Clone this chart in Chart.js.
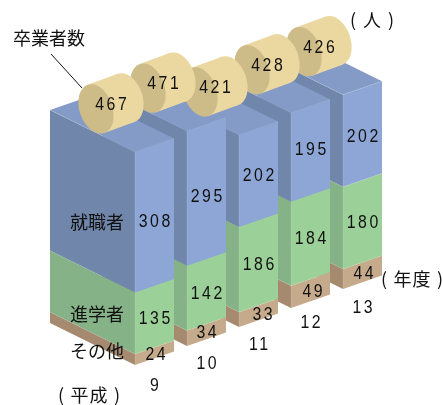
<!DOCTYPE html>
<html lang="ja">
<head>
<meta charset="utf-8">
<title>卒業者数</title>
<script src="https://cdn.jsdelivr.net/npm/chart.js@4/dist/chart.umd.min.js"></script>
<style>
    html, body { margin: 0; padding: 0; background: #fff; }
    canvas { display: block; }
</style>
</head>
<body>
<canvas id="chart" width="443" height="405"></canvas>
<script>
// Data
const fiscalYears = ['9', '10', '11', '12', '13'];
const otherValues = [24, 34, 33, 49, 44];
const advanceValues = [135, 142, 186, 184, 180];
const jobValues = [308, 295, 202, 195, 202];
const graduateTotals = [467, 471, 421, 428, 426];

// Projection of the flat bars into the oblique view
const YEAR_RISE = 19;      // each later year sits this much higher
const FRONT_RISE = 13.5;   // front face climbs this much left to right
const DEPTH_X = 85;
const DEPTH_Y = 42;

const LABEL_FONT = '18px "Liberation Sans", Arial, sans-serif';
const LABEL_SPACING = 2.9;
const DIGIT_SQUEEZE = 0.88;  // the digits in the picture are narrow and widely set
const JP_FONT = '18px "Noto Sans CJK JP", sans-serif';
const TICK_NUDGE = [3, 0, 0, -3, 1];
// small hand shifts of the value labels, per segment then per year: [dx, dy]
const VALUE_NUDGE = [
    [[1, 0], [0, 0], [4, 0], [2, 0], [1, 0]],
    [[0, 1], [0, 1], [0, 0], [0, 0], [0, 0]],
    [[0, 5], [0, 3], [0, 0], [0, -2], [0, 1]]
];

const segmentColors = [
    { front: '#c6aa8c', side: '#a58a70' },
    { front: '#9bd098', side: '#85b286' },
    { front: '#8da6d6', side: '#7086ab', top: '#839bc6' }
];

function fillQuad(ctx, points, color) {
    ctx.fillStyle = color;
    ctx.beginPath();
    points.forEach(([x, y], i) => (i ? ctx.lineTo(x, y) : ctx.moveTo(x, y)));
    ctx.closePath();
    ctx.fill();
}

function drawText(ctx, text, x, y, font, spacing) {
    ctx.font = font;
    ctx.letterSpacing = (spacing || 0) + 'px';
    ctx.textAlign = 'center';
    ctx.textBaseline = 'middle';
    ctx.fillStyle = '#111';
    ctx.fillText(text, x + (spacing || 0) / 2, y);
}

function drawDigits(ctx, text, x, y) {
    ctx.save();
    ctx.translate(x, y);
    ctx.scale(DIGIT_SQUEEZE, 1);
    drawText(ctx, text, 0, 0, LABEL_FONT, LABEL_SPACING);
    ctx.restore();
}

function drawCylinder(ctx, x, y, total) {
    const rot = -19 * Math.PI / 180;
    const dx = 30, dy = -11, rx = 16.5, ry = 25.5;
    const tx = Math.sin(-rot) * ry, ty = Math.cos(rot) * ry;

    ctx.fillStyle = '#ebd7a0';
    ctx.beginPath();
    ctx.ellipse(x + dx, y + dy, rx, ry, rot, 0, Math.PI * 2);
    ctx.fill();
    fillQuad(ctx, [
        [x - tx, y - ty], [x + dx - tx, y + dy - ty],
        [x + dx + tx, y + dy + ty], [x + tx, y + ty]
    ], '#ebd7a0');

    ctx.fillStyle = '#cdbb88';
    ctx.beginPath();
    ctx.ellipse(x, y, rx, ry, rot, 0, Math.PI * 2);
    ctx.fill();

    drawDigits(ctx, String(total), x + 15, y - 4);
}

// Draws the stacked bars back to front, using the pixels the bar elements got from the scales
const obliqueBars = {
    id: 'obliqueBars',
    afterDatasetsDraw(chart) {
        const ctx = chart.ctx;
        const metas = chart.data.datasets.map((d, i) => chart.getDatasetMeta(i));

        ctx.save();
        for (let i = fiscalYears.length - 1; i >= 0; i--) {
            const shift = -YEAR_RISE * i;
            metas.forEach((meta, s) => {
                const bar = meta.data[i];
                const left = bar.x - bar.width / 2;
                const right = bar.x + bar.width / 2;
                const top = bar.y + shift;
                const base = bar.base + shift;
                const colors = segmentColors[s];

                fillQuad(ctx, [
                    [left - DEPTH_X, top - DEPTH_Y], [left, top],
                    [left, base], [left - DEPTH_X, base - DEPTH_Y]
                ], colors.side);
                fillQuad(ctx, [
                    [left, top], [right, top - FRONT_RISE],
                    [right, base - FRONT_RISE], [left, base]
                ], colors.front);
                if (colors.top) {
                    fillQuad(ctx, [
                        [left - DEPTH_X, top - DEPTH_Y], [left, top],
                        [right, top - FRONT_RISE], [right - DEPTH_X, top - FRONT_RISE - DEPTH_Y]
                    ], colors.top);
                }

                // faint light edges where the faces meet
                ctx.strokeStyle = 'rgba(255,255,255,0.2)';
                ctx.lineWidth = 0.6;
                ctx.beginPath();
                ctx.moveTo(left - DEPTH_X, top - DEPTH_Y);
                ctx.lineTo(left, top);
                ctx.lineTo(right, top - FRONT_RISE);
                ctx.moveTo(left, top);
                ctx.lineTo(left, base);
                ctx.stroke();
            });
        }

        // Leader line of the total label
        ctx.strokeStyle = '#111';
        ctx.lineWidth = 1;
        ctx.beginPath();
        ctx.moveTo(51, 54);
        ctx.lineTo(82, 88);
        ctx.stroke();

        // Totals sit on the roof of each bar
        const yScale = chart.scales.y;
        const firstMeta = metas[0];
        for (let i = fiscalYears.length - 1; i >= 0; i--) {
            const left = firstMeta.data[i].x - firstMeta.data[i].width / 2;
            const top = yScale.getPixelForValue(graduateTotals[i]) - YEAR_RISE * i;
            drawCylinder(ctx, left - 39, top - 43, graduateTotals[i]);
        }

        // Value labels on the front faces
        metas.forEach((meta, s) => {
            meta.data.forEach((bar, i) => {
                const mid = (bar.y + bar.base) / 2 - YEAR_RISE * i - FRONT_RISE / 2 + 2;
                const [nx, ny] = VALUE_NUDGE[s][i];
                drawDigits(ctx, String(chart.data.datasets[s].data[i]), bar.x + nx, mid + ny);
            });
        });

        // Year labels below each bar
        const xScale = chart.scales.x;
        fiscalYears.forEach((year, i) => {
            const y = yScale.getPixelForValue(0) - YEAR_RISE * i + 18 + TICK_NUDGE[i];
            drawDigits(ctx, year, xScale.getPixelForValue(i), y);
        });

        // Captions
        drawText(ctx, '卒業者数', 49, 38, JP_FONT);
        drawText(ctx, '就職者', 97, 222, JP_FONT);
        drawText(ctx, '進学者', 97, 314, JP_FONT);
        drawText(ctx, 'その他', 97, 351, JP_FONT);
        drawText(ctx, '( 平成 )', 89, 395, JP_FONT, 1.2);
        drawText(ctx, '( 人 )', 372, 20, JP_FONT, 1.5);
        drawText(ctx, '( 年度 )', 412, 279, JP_FONT, 1.2);
        ctx.restore();
    }
};

new Chart(document.getElementById('chart'), {
    type: 'bar',
    data: {
        labels: fiscalYears,
        datasets: [
            { label: 'その他', data: otherValues, backgroundColor: 'transparent' },
            { label: '進学者', data: advanceValues, backgroundColor: 'transparent' },
            { label: '就職者', data: jobValues, backgroundColor: 'transparent' }
        ]
    },
    options: {
        responsive: false,
        animation: false,
        barThickness: 39,
        layout: { padding: { left: 128.5, right: 54.5, top: 0, bottom: 40 } },
        plugins: { legend: { display: false }, tooltip: { enabled: false } },
        scales: {
            x: { stacked: true, display: false },
            y: { stacked: true, display: false, min: 0, max: 800 }
        }
    },
    plugins: [obliqueBars]
});
</script>
</body>
</html>
